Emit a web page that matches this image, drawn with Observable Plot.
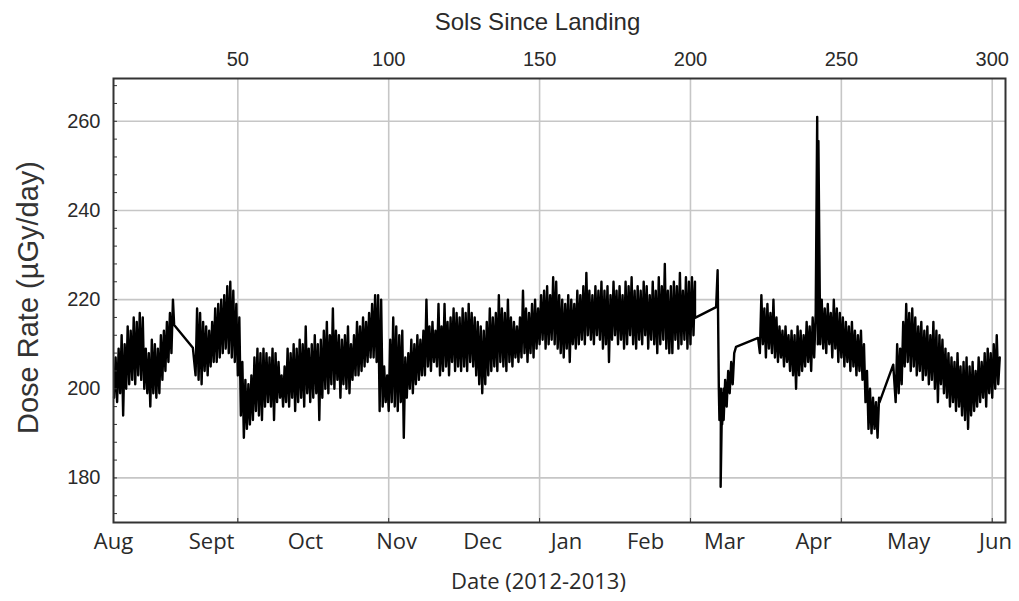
<!DOCTYPE html>
<html>
<head>
<meta charset="utf-8">
<script src="https://cdn.jsdelivr.net/npm/d3@7"></script>
<script src="https://cdn.jsdelivr.net/npm/@observablehq/plot@0.6"></script>
<style>
  html, body { margin: 0; padding: 0; background: #fff; }
  #chart { width: 1019px; height: 601px; }
</style>
</head>
<body>
<div id="chart"></div>
<script>
// Axis ticks and labels
const solTicks = [50, 100, 150, 200, 250, 300];
const doseTicks = [180, 200, 220, 240, 260];
const doseMinorTicks = [172, 176, 180, 184, 188, 192, 196, 200, 204, 208, 212, 216, 220, 224, 228, 232, 236, 240, 244, 248, 252, 256, 260, 264, 268];
const monthLabels = ["Aug", "Sept", "Oct", "Nov", "Dec", "Jan", "Feb", "Mar", "Apr", "May", "Jun"];
const monthSols = [8.8, 41.3, 72.4, 102.6, 131.1, 158.9, 185.1, 211.3, 240.8, 272.3, 301.1];
const topTitle = "Sols Since Landing";
const xTitle = "Date (2012-2013)";
const yTitle = "Dose Rate (\u00B5Gy/day)";

// Dose-rate trace: per sol, the daily low and high (equal values = single point)
const sols = [
  9,10,11,12,13,14,15,16,17,18,19,20,21,22,23,24,25,26,27,28,28.9,
  35.1,36,37,38,39,40,41,42,43,44,45,46,47,48,49,50,51,52,53,54,
  55,56,57,58,59,60,61,62,63,64,65,66,67,68,69,70,71,72,73,74,75,76,77,78,79,80,81,82,83,84,85,86,
  87,88,89,90,91,92,93,94,95,96,97,98,99,100,101,102,103,104,105,106,107,108,109,110,111,112,113,114,115,116,117,118,119,120,121,122,123,124,
  125,126,127,128,129,130,131,132,133,134,135,136,137,138,139,140,141,142,143,144,145,146,147,148,149,150,151,152,153,154,155,156,157,158,159,160,161,162,
  163,164,165,166,167,168,169,170,171,172,173,174,175,176,177,178,179,180,181,182,183,184,185,186,187,188,189,190,191,192,193,194,195,196,197,198,199,200,201,201.5,
  208.5,209.0,209.4,209.6,210,210.5,211,212,213,214,215.1,
  222.4,223,224,225,226,227,228,229,230,231,232,233,234,235,236,237,238,239,240,241,242.0,242.2,242.4,
  243,244,245,246,247,248,249,250,251,252,253,254,255,256,257,258,259,260,261,262,262.6,
  267.2,268,269,270,271,272,273,274,275,276,277,278,279,280,281,282,283,284,285,286,287,288,289,290,291,292,293,294,295,296,297,298,299,300,301,302
];
const lows = [
  198,197,199,194,200,201,202,201,203,202,200,199,196,199,198,199,202,204,206,208,214.3,
  209.2,203,202,201,204,203,205,206,206,207,208,209,208,207,206,203,194,189,191,192,
  193,195,194,193,196,197,196,193,197,198,196,197,196,198,195,197,198,196,199,197,198,199,193,198,200,199,201,200,202,198,201,200,
  199,202,203,203,204,205,206,207,207,206,195,196,197,195,197,196,195,197,189,198,200,199,201,202,203,203,205,204,206,205,203,204,205,203,206,204,205,204,
  205,204,206,205,203,201,199,201,203,204,205,204,206,205,204,206,205,207,206,207,208,206,208,207,209,210,211,209,210,211,210,209,208,207,209,206,210,209,
  210,211,210,212,211,210,212,211,209,210,206,211,212,210,211,209,210,212,210,209,211,210,212,209,211,210,208,210,211,209,208,208,211,209,210,211,209,210,212,215.9,
  218.3,226.6,200,193,178,192,193,196,199,201,209.4,
  211.4,208,210,207,209,208,207,206,207,205,206,204,203,200,203,204,205,206,204,207,261,210,255.6,
  210,209,208,210,207,209,206,207,205,206,204,205,203,204,202,197,191,190,191,189,196.9,
  205.4,197,199,201,205,206,204,205,203,204,202,203,201,202,200,197,201,199,198,196,197,195,196,194,193,191,194,195,196,197,198,196,199,198,200,201
];
const highs = [
  207,209,212,210,214,213,216,215,217,216,209,208,211,210,209,212,213,215,217,220,214.3,
  209.2,218,217,215,214,213,215,218,219,220,221,223,224,222,219,216,206,202,201,203,
  207,209,208,209,208,207,209,208,206,203,205,209,208,210,209,211,210,214,209,210,212,210,211,213,215,212,218,213,212,211,212,214,
  210,212,215,214,216,215,217,219,221,221,220,205,203,211,216,214,212,213,207,208,211,210,212,211,213,220,214,215,213,219,214,219,215,216,218,217,216,218,
  217,219,217,216,215,214,213,215,218,216,217,221,218,217,220,216,215,214,216,222,218,217,219,220,218,221,222,223,221,225,224,221,220,219,221,220,219,222,
  221,223,226,222,221,223,222,224,222,223,221,224,222,223,221,224,223,225,222,223,222,224,223,221,224,222,225,223,228,222,223,224,223,226,222,225,224,225,224,215.9,
  218.3,226.6,200,200,199,200,202,204,206,208,209.4,
  211.4,221,218,219,217,220,216,214,213,214,212,213,212,214,213,212,215,214,216,217,261,210,255.6,
  220,218,219,217,220,218,217,216,215,214,215,213,212,213,210,204,200,198,197,198,196.9,
  205.4,210,209,215,219,217,218,216,214,215,213,214,212,215,213,212,211,209,208,207,206,208,205,206,207,205,206,204,207,206,208,209,208,210,212,207
];

const trace = sols.flatMap((s, i) =>
  lows[i] === highs[i]
    ? [{sol: s, v: lows[i]}]
    : [{sol: s, v: lows[i]}, {sol: s + 0.5, v: highs[i]}]
);

const chart = Plot.plot({
  width: 1019,
  height: 601,
  marginLeft: 113,
  marginRight: 14,
  marginTop: 78,
  marginBottom: 79,
  style: {fontFamily: "'Liberation Sans', Arial, sans-serif", background: "#fff", color: "#2a2a2a"},
  x: {domain: [8.8, 304.4], axis: null},
  y: {domain: [170, 269.6], axis: null},
  marks: [
    Plot.gridX(solTicks, {stroke: "#c6c6c6", strokeOpacity: 1, strokeWidth: 1.6}),
    Plot.gridY(doseTicks, {stroke: "#c6c6c6", strokeOpacity: 1, strokeWidth: 1.6}),
    Plot.line(trace, {x: "sol", y: "v", stroke: "#000", strokeWidth: 2.4}),
    Plot.frame({stroke: "#333", strokeWidth: 2}),
    Plot.axisY(doseTicks, {anchor: "left", tickSize: 0, tickPadding: 13, fontSize: 20, label: null}),
    Plot.axisY(doseMinorTicks, {anchor: "left", tickSize: 4, dx: 4, tickFormat: () => "", label: null, stroke: "#333"}),
    Plot.axisX(solTicks, {anchor: "top", tickSize: 0, tickPadding: 13, fontSize: 20, label: null}),
    Plot.axisX(solTicks, {anchor: "bottom", tickSize: 4, dy: -4, tickFormat: () => "", label: null, stroke: "#333"}),
    Plot.axisX(monthSols, {anchor: "bottom", tickSize: 0, tickPadding: 11, fontSize: 22, fontFamily: "'Open Sans', sans-serif",
      tickFormat: d => monthLabels[monthSols.indexOf(d)], label: null}),
    Plot.text([topTitle], {frameAnchor: "top", lineAnchor: "middle", textAnchor: "middle", dx: -22, dy: -56, fontSize: 24, fill: "#2a2a2a"}),
    Plot.text([xTitle], {frameAnchor: "bottom", lineAnchor: "middle", textAnchor: "middle", dx: -21, dy: 59, fontSize: 22, fontFamily: "'Open Sans', sans-serif", fill: "#2a2a2a"}),
    Plot.text([yTitle], {frameAnchor: "left", lineAnchor: "middle", textAnchor: "middle", rotate: -90, dx: -85, dy: -3, fontSize: 29, fill: "#333"})
  ]
});
document.getElementById("chart").appendChild(chart);
</script>
</body>
</html>
